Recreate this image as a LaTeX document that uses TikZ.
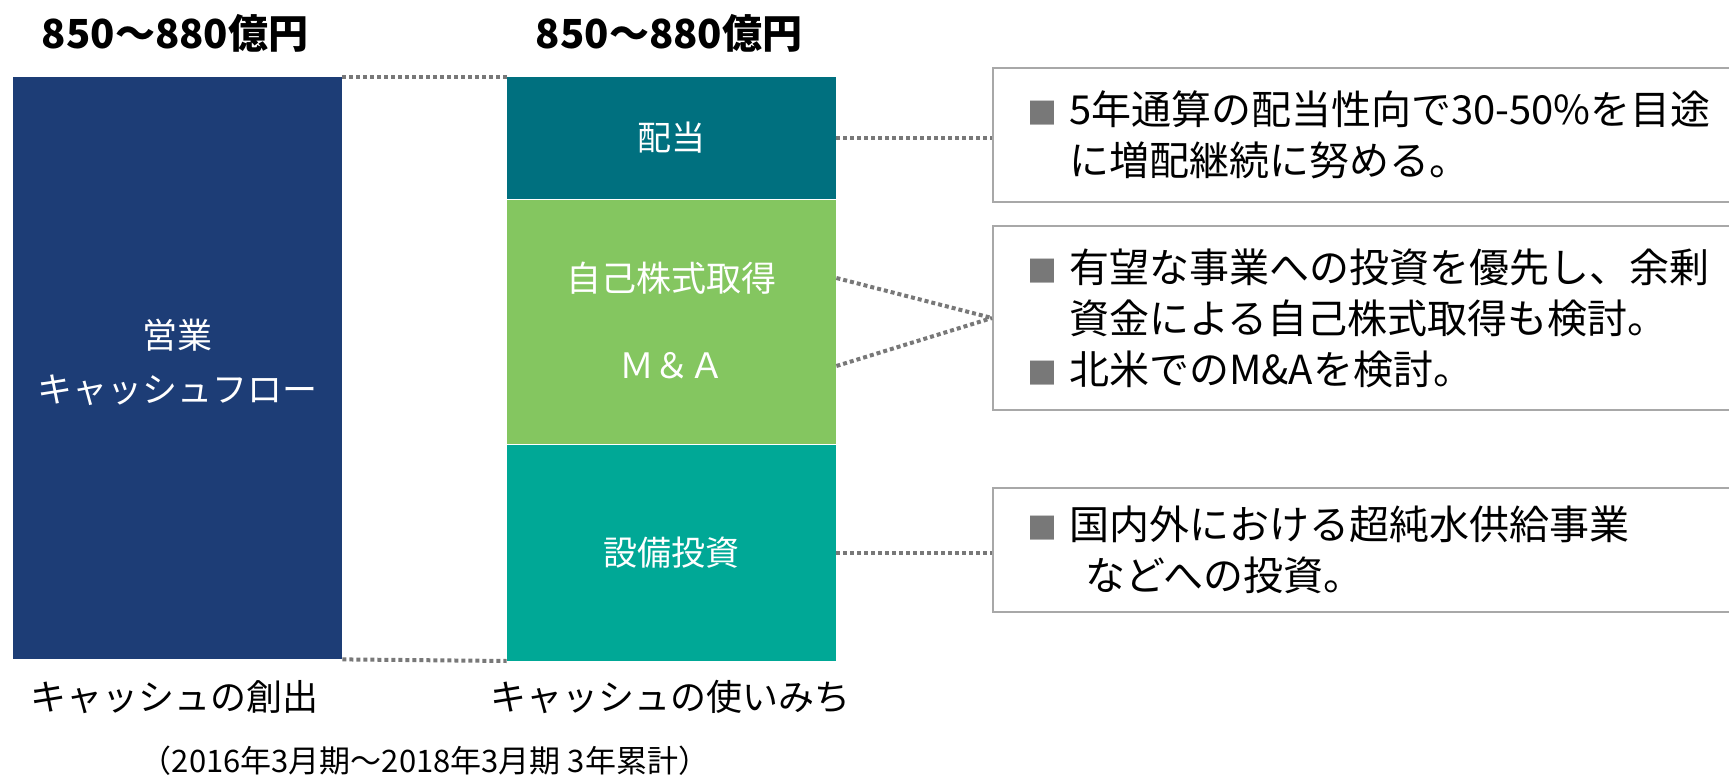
\documentclass[tikz,border=0pt]{standalone}
\usepackage{fontspec}
\setmainfont{Noto Sans CJK JP}
\usetikzlibrary{positioning}
\definecolor{cfnavy}{RGB}{29,61,118}
\definecolor{divteal}{RGB}{0,112,127}
\definecolor{buygreen}{RGB}{132,198,96}
\definecolor{capexteal}{RGB}{0,168,150}
\definecolor{linegray}{RGB}{120,120,120}
\definecolor{boxgray}{RGB}{168,168,168}
\newcommand{\notebullet}{\makebox[21pt][l]{\textcolor{linegray}{\fontsize{15pt}{15pt}\selectfont ■}}}

\begin{document}
\begin{tikzpicture}
[x=0.5pt, y=-0.5pt,
% The bar style is used for the segments of both columns
bar/.style={rectangle, inner sep=0pt, minimum width=164.5pt, text=white, font=\fontsize{17pt}{25.5pt}\selectfont, align=center},
% The bartext style is used for the labels laid over the segments
bartext/.style={inner sep=0pt, text=white, align=center, font=\fontsize{17.5pt}{27pt}\selectfont},
% The note style is used for the explanation boxes on the right
note/.style={rectangle, draw=boxgray, line width=1pt, anchor=west, inner xsep=17pt, inner ysep=0pt, text width=350pt, align=left, font=\fontsize{20pt}{25.5pt}\selectfont},
amount/.style={inner sep=0pt, font=\bfseries\fontsize{20pt}{20pt}\selectfont},
caption/.style={inner sep=0pt, font=\fontsize{18pt}{18pt}\selectfont},
link/.style={draw=linegray, line width=2pt, dash pattern=on 2pt off 1.5pt}
]
\useasboundingbox (0,0) rectangle (1729,775);

% Cash creation
\node [bar, fill=cfnavy, minimum height=291pt] (cf) at (177.5,368) {};
\node [bartext] (cftext) at (177.5,362) {営業\\キャッシュフロー};

% Cash usage
\node [bar, fill=divteal, minimum height=61pt] (div) at (671.5,138) {配当};
\node [bar, fill=buygreen, minimum height=122pt, below=0pt of div] (buy) {};
\node [bar, fill=capexteal, minimum height=108pt, below=0pt of buy] (capex) {設備投資};
\node [bartext] (buyself) at (671.5,278) {自己株式取得};
\node [bartext] (buyma) at (671.5,366) {Ｍ＆Ａ};

% Amounts and captions
\node [amount] (cfamt) at (175,33) {850～880億円};
\node [amount] (useamt) at (669,33) {850～880億円};
\node [caption] (cflbl) at (174,697) {キャッシュの創出};
\node [caption] (uselbl) at (670,697) {キャッシュの使いみち};
\node [inner sep=0pt, font=\fontsize{15.5pt}{15.5pt}\selectfont] (period) at (425,761) {（2016年3月期～2018年3月期 3年累計）};

% Explanation boxes
\node [note, minimum height=67pt] (divnote) at (992,135)
  {\notebullet 5年通算の配当性向で30-50\%を目途\\\hspace*{21pt}に増配継続に努める。};
\node [note, minimum height=92pt] (buynote) at (992,318)
  {\notebullet 有望な事業への投資を優先し、余剰\\\hspace*{21pt}資金による自己株式取得も検討。\\\notebullet 北米でのM\&Aを検討。};
\node [note, minimum height=62pt] (capexnote) at (992,550)
  {\notebullet 国内外における超純水供給事業\\\hspace*{29pt}などへの投資。};

% Dotted connectors
\draw [link] (cf.north east) -- (div.north west);
\draw [link] (cf.south east) -- (capex.south west);
\draw [link] (div.east) -- (div.east -| divnote.west);
\draw [link] (buy.east |- buyself) -- (buynote.west);
\draw [link] (buy.east |- buyma) -- (buynote.west);
\draw [link] (capex.east) -- (capex.east -| capexnote.west);
\end{tikzpicture}
\end{document}
